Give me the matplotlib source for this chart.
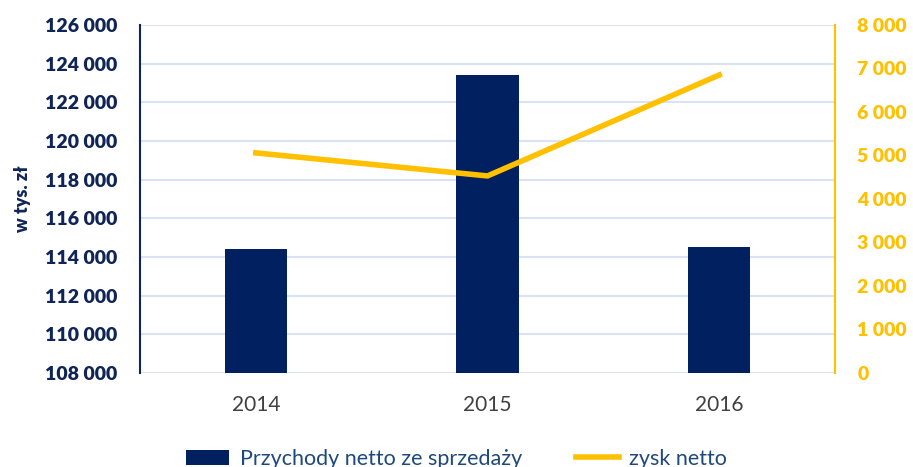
import matplotlib
matplotlib.use('Agg')
import matplotlib.pyplot as plt
from matplotlib.ticker import FuncFormatter
import numpy as np

lata = ['2014', '2015', '2016']
przychody = [114400, 123400, 114500]
zysk = [5060, 4530, 6850]

granat = '#002060'
zloty = '#FFC000'

plt.rcParams['font.family'] = ['Lato', 'DejaVu Sans']

def fmt(v, pos):
    return '{:,.0f}'.format(v).replace(',', ' ')

fig = plt.figure(figsize=(9.13, 4.67), dpi=100)
ax = fig.add_axes([0.1533, 0.2013, 0.7613, 0.7452])
x = np.arange(len(lata))
b = ax.bar(x, przychody, width=0.27, color=granat, zorder=3, label='Przychody netto ze sprzedaży')
ax.set_ylim(108000, 126000)
ax.set_yticks(np.arange(108000, 126001, 2000))
ax.yaxis.set_major_formatter(FuncFormatter(fmt))
ax.set_xlim(-0.5, 2.5)
ax.set_xticks(x)
ax.set_xticklabels(lata, fontsize=15, color='#404040')
ax.grid(axis='y', color='#D9E3F3', lw=1.5, zorder=0)
for t in ax.get_yticklabels():
    t.set_fontweight('heavy')
    t.set_color('#0F2557')
    t.set_fontsize(14)
ax.tick_params(axis='y', length=0, pad=16)
ax.tick_params(axis='x', length=0, pad=16)
ax.spines['top'].set_visible(False)
ax.spines['bottom'].set_visible(False)
ax.spines['right'].set_visible(False)
ax.spines['left'].set_color('#0F2557')
ax.spines['left'].set_linewidth(1.5)
ax.set_ylabel('w tys. zł', fontsize=13, fontweight='heavy', color='#0F2557', labelpad=10)

ax2 = ax.twinx()
l, = ax2.plot(x, zysk, color=zloty, lw=4, label='zysk netto', zorder=4)
ax2.set_ylim(0, 8000)
ax2.set_yticks(np.arange(0, 8001, 1000))
ax2.yaxis.set_major_formatter(FuncFormatter(fmt))
for t in ax2.get_yticklabels():
    t.set_fontweight('heavy')
    t.set_color(zloty)
    t.set_fontsize(14)
ax2.tick_params(axis='y', length=0, pad=16)
for s in ['top', 'bottom', 'left']:
    ax2.spines[s].set_visible(False)
ax2.spines['right'].set_color(zloty)
ax2.spines['right'].set_linewidth(1.5)

leg = fig.legend([b, l], ['Przychody netto ze sprzedaży', 'zysk netto'], loc='lower center',
                 bbox_to_anchor=(0.5, -0.045), ncol=2, frameon=False, fontsize=15.5,
                 handlelength=2.0, handletextpad=0.5, columnspacing=2.5)
for t in leg.get_texts():
    t.set_color('#1F497D')

fig.savefig('out.png', dpi=100)
